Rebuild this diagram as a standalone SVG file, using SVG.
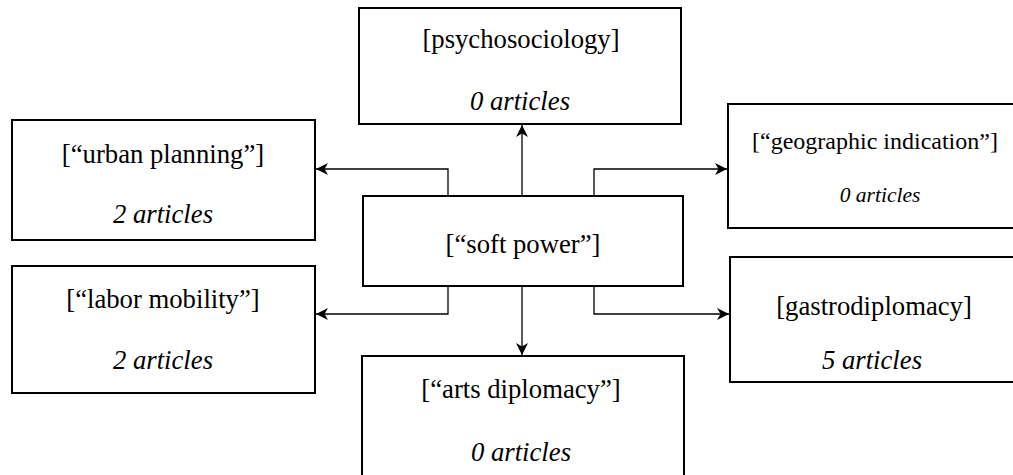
<svg xmlns="http://www.w3.org/2000/svg" width="1013" height="475" viewBox="0 0 1013 475">
  <style>
    .box { fill: #ffffff; stroke: #000000; stroke-width: 2; }
    .edge { fill: none; stroke: #000000; stroke-width: 1.3; marker-end: url(#arrow); }
    text { font-family: 'Liberation Serif', 'DejaVu Serif', serif; fill: #000000; text-anchor: middle; }
    .title { font-size: 26.7px; }
    .count { font-size: 26.7px; font-style: italic; }
    .small { font-size: 24px; }
    .small-count { font-size: 21.5px; }
  </style>
  <defs>
    <marker id="arrow" markerUnits="userSpaceOnUse" markerWidth="14" markerHeight="14" viewBox="-13 -7 14 14" refX="0" refY="0" orient="auto">
      <path d="M0,0 L-12,-6 L-8.5,0 L-12,6 Z" fill="#000000"/>
    </marker>
  </defs>

  <rect width="1013" height="475" fill="#ffffff"/>

  <!-- connectors from the central topic -->
  <g id="connectors">
    <path class="edge" d="M448,196 V169 H316"/>
    <path class="edge" d="M522,196 V125"/>
    <path class="edge" d="M594,196 V169 H727"/>
    <path class="edge" d="M448,286 V314 H316"/>
    <path class="edge" d="M522,286 V355"/>
    <path class="edge" d="M594,286 V314 H729"/>
  </g>

  <g id="node-psychosociology">
    <rect class="box" x="359" y="8" width="322" height="116"/>
    <text class="title" x="521" y="48" font-family="Liberation Serif">[psychosociology]</text>
    <text class="count" x="520" y="110">0 articles</text>
  </g>

  <g id="node-urban-planning">
    <rect class="box" x="12" y="120" width="303" height="120"/>
    <text class="title" x="163" y="163">[“urban planning”]</text>
    <text class="count" x="163" y="223">2 articles</text>
  </g>

  <g id="node-soft-power">
    <rect class="box" x="363" y="196" width="320" height="90"/>
    <text class="title" x="523" y="253">[“soft power”]</text>
  </g>

  <g id="node-geographic-indication">
    <rect class="box" x="728" y="104" width="294" height="124"/>
    <text class="title small" x="875" y="149">[“geographic indication”]</text>
    <text class="count small-count" x="880" y="202">0 articles</text>
  </g>

  <g id="node-labor-mobility">
    <rect class="box" x="12" y="266" width="303" height="127"/>
    <text class="title" x="163" y="308">[“labor mobility”]</text>
    <text class="count" x="163" y="369">2 articles</text>
  </g>

  <g id="node-gastrodiplomacy">
    <rect class="box" x="730" y="257" width="292" height="125"/>
    <text class="title" x="874" y="315">[gastrodiplomacy]</text>
    <text class="count" x="872" y="369">5 articles</text>
  </g>

  <g id="node-arts-diplomacy">
    <rect class="box" x="362" y="356" width="322" height="130"/>
    <text class="title" x="521" y="398">[“arts diplomacy”]</text>
    <text class="count" x="521" y="461">0 articles</text>
  </g>
</svg>
